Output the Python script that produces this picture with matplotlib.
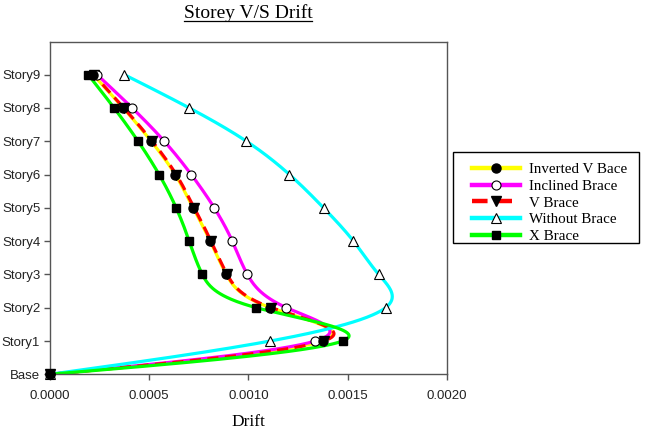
import numpy as np
import matplotlib
matplotlib.use("Agg")
import matplotlib.pyplot as plt
from matplotlib.lines import Line2D
from matplotlib.patches import Rectangle

# storey levels and drift values
stories = ["Base", "Story1", "Story2", "Story3", "Story4", "Story5",
           "Story6", "Story7", "Story8", "Story9"]
levels = np.arange(len(stories))

inverted_v = [0.0, 0.001374, 0.001111, 0.000889, 0.000808, 0.000722,
              0.000631, 0.000510, 0.000369, 0.000217]
inclined = [0.0, 0.001338, 0.001192, 0.000995, 0.000919, 0.000828,
            0.000712, 0.000576, 0.000414, 0.000237]
v_brace = [0.0, 0.001380, 0.001116, 0.000893, 0.000812, 0.000727,
           0.000636, 0.000515, 0.000372, 0.000220]
without = [0.0, 0.001111, 0.001692, 0.001657, 0.001530, 0.001379,
           0.001207, 0.000990, 0.000702, 0.000374]
x_brace = [0.0, 0.001475, 0.001040, 0.000768, 0.000702, 0.000636,
           0.000550, 0.000444, 0.000323, 0.000192]

xticks = [0.0, 0.0005, 0.0010, 0.0015, 0.0020]


def natural_spline(t, v, tt):
    # natural cubic spline v(t), evaluated at tt
    t = np.asarray(t, float)
    v = np.asarray(v, float)
    n = len(t)
    h = np.diff(t)
    A = np.zeros((n, n))
    r = np.zeros(n)
    A[0, 0] = A[-1, -1] = 1.0
    for i in range(1, n - 1):
        A[i, i - 1] = h[i - 1]
        A[i, i] = 2 * (h[i - 1] + h[i])
        A[i, i + 1] = h[i]
        r[i] = 6 * ((v[i + 1] - v[i]) / h[i] - (v[i] - v[i - 1]) / h[i - 1])
    m = np.linalg.solve(A, r)
    idx = np.clip(np.searchsorted(t, tt) - 1, 0, n - 2)
    t0, t1 = t[idx], t[idx + 1]
    hh = t1 - t0
    a = (t1 - tt) / hh
    b = (tt - t0) / hh
    return (a * v[idx] + b * v[idx + 1]
            + ((a ** 3 - a) * m[idx] + (b ** 3 - b) * m[idx + 1]) * hh ** 2 / 6)


series = [
    ("Inverted V Bace", inverted_v, dict(color="#FFFF00", ls="-"),
     dict(marker="o", mfc="black", mec="black", ms=6.5)),
    ("Inclined Brace", inclined, dict(color="#FF00FF", ls="-"),
     dict(marker="o", mfc="white", mec="black", ms=6.5, mew=0.8)),
    ("V Brace", v_brace, dict(color="#FF0000", ls=(0, (3.5, 2))),
     dict(marker="v", mfc="black", mec="black", ms=7)),
    ("Without Brace", without, dict(color="#00FFFF", ls="-"),
     dict(marker="^", mfc="white", mec="black", ms=7, mew=0.8)),
    ("X Brace", x_brace, dict(color="#00FF00", ls="-"),
     dict(marker="s", mfc="black", mec="black", ms=6)),
]

fig = plt.figure(figsize=(6.48, 4.36), dpi=100)
ax = fig.add_axes([50 / 648, 1 - 374.3 / 436, 396.7 / 648, 332 / 436])

yy = np.linspace(0, levels[-1], 500)
handles = []
for label, xs, lkw, mkw in series:
    ax.plot(natural_spline(levels, xs, yy), yy, lw=2.3, zorder=2, **lkw)
    handles.append(Line2D([], [], lw=3.2, **lkw, **mkw, label=label))
for label, xs, lkw, mkw in series[::-1]:
    ax.plot(xs, levels, ls="none", zorder=3, clip_on=False, **mkw)

ax.set_xlim(0, 0.002)
ax.set_ylim(0, 9.97)
ax.set_xticks(xticks)
ax.set_xticklabels([f"{v:.4f}" for v in xticks])
ax.set_yticks(levels)
ax.set_yticklabels(stories)
for s in ax.spines.values():
    s.set_color("#555555")
    s.set_linewidth(1.0)
ax.tick_params(axis="x", length=4, width=1, color="#555555", pad=7,
               labelsize=9.5, labelcolor="#222222")
ax.tick_params(axis="y", length=4, width=1, color="#555555", pad=3,
               labelsize=9.5, labelcolor="#222222")
for lab in ax.get_xticklabels() + ax.get_yticklabels():
    lab.set_family("Liberation Sans")

ax.set_xlabel("Drift", family="Liberation Serif", fontsize=12.5, labelpad=9)

title = fig.text(248 / 648, 1 - 13.5 / 436, "Storey V/S Drift",
                 family="Liberation Serif", fontsize=14,
                 ha="center", va="center")

# legend entries without their own frame, boxed by a separate rectangle
leg = fig.legend(handles=handles, loc="upper left",
                 bbox_to_anchor=(472 / 648, 1 - 162.5 / 436),
                 prop={"family": "Liberation Serif", "size": 10.8},
                 frameon=False, handlelength=3.2, handletextpad=0.6,
                 labelspacing=0.22, borderpad=0, borderaxespad=0)
fig.add_artist(Rectangle((453 / 648, 1 - 243 / 436), 186 / 648, 91 / 436,
                         transform=fig.transFigure, fill=False,
                         edgecolor="black", lw=1.0))

# underline the title
fig.canvas.draw()
bb = title.get_window_extent()
inv = fig.transFigure.inverted()
(x0, y0), (x1, _) = inv.transform([(bb.x0, bb.y0 + 1), (bb.x1, bb.y0)])
fig.add_artist(Line2D([x0, x1], [y0, y0], color="black", lw=0.9,
                      transform=fig.transFigure))

fig.savefig("out.png", dpi=100)
